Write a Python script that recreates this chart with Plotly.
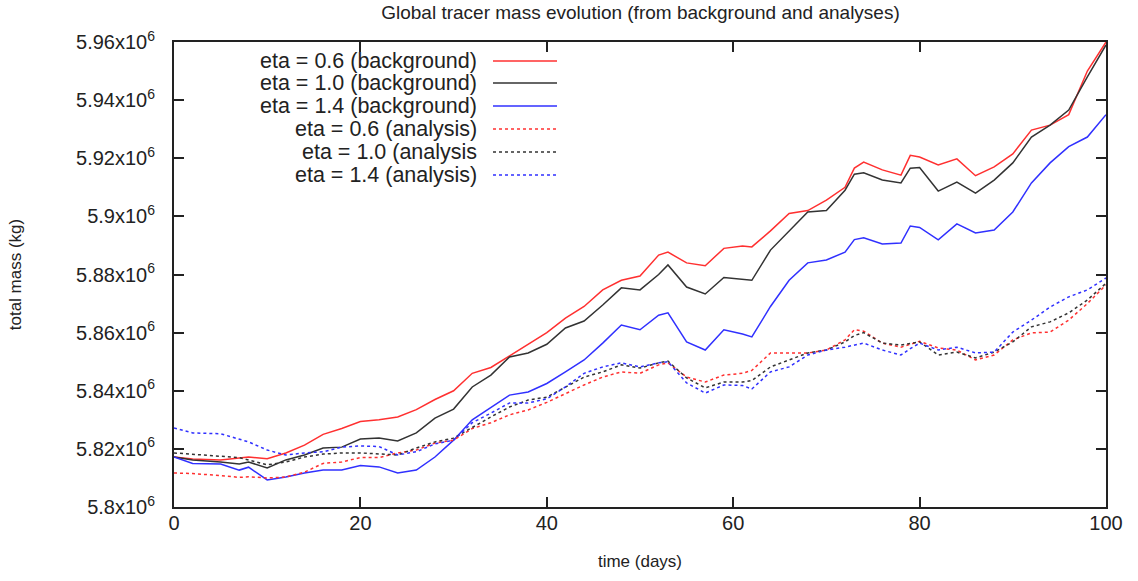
import plotly.graph_objects as go

# time (days)
days = [0, 2, 5, 7, 8, 10, 12, 14, 16, 18, 20, 22, 24, 26, 28, 30, 32, 34, 36, 38,
        40, 42, 44, 46, 48, 50, 52, 53, 55, 57, 59, 61, 62, 64, 66, 68, 70, 72, 73, 74,
        76, 78, 79, 80, 82, 84, 86, 88, 90, 92, 94, 96, 98, 100]

# total mass, thousands of kg above 5.8e6
eta06_bg = [17.2, 16.5, 16.2, 16.8, 17.2, 16.6, 18.6, 21.3, 25.0, 27.0, 29.4, 30.0, 31.0, 33.5, 37.0, 40.0, 46.0, 48.0, 52.0, 56.0,
            60.0, 65.0, 69.0, 74.7, 78.0, 79.5, 86.7, 87.7, 84.0, 83.0, 89.0, 89.8, 89.5, 95.0, 101.0, 102.0, 105.6, 110.0, 116.6, 118.7,
            116.0, 114.2, 121.0, 120.4, 117.7, 119.8, 114.0, 117.0, 121.5, 129.7, 131.4, 135.0, 150.0, 160.0]
eta10_bg = [17.2, 16.2, 15.5, 14.8, 15.5, 13.4, 16.2, 17.9, 20.3, 20.6, 23.4, 23.7, 22.7, 25.5, 30.6, 33.7, 41.3, 45.4, 51.6, 53.0,
            56.0, 61.6, 64.0, 69.5, 75.4, 74.7, 80.0, 83.3, 75.7, 73.3, 79.0, 78.5, 78.0, 88.4, 95.0, 101.5, 102.0, 109.0, 114.5, 115.0,
            112.5, 111.5, 116.6, 116.8, 108.7, 111.8, 108.0, 112.5, 118.4, 127.3, 131.4, 136.6, 148.0, 159.0]
eta14_bg = [17.2, 15.0, 14.8, 12.7, 13.7, 9.3, 10.3, 11.7, 12.7, 12.7, 14.3, 13.8, 11.7, 12.7, 17.2, 23.0, 30.0, 34.4, 38.5, 39.6,
            42.5, 46.5, 50.6, 56.4, 62.6, 61.0, 66.0, 66.8, 56.8, 54.0, 61.0, 59.5, 58.5, 69.0, 78.0, 84.0, 85.0, 87.7, 92.0, 92.6,
            90.5, 90.8, 96.7, 96.2, 91.9, 97.4, 94.3, 95.3, 101.5, 111.5, 118.4, 124.0, 127.3, 135.0]
eta06_an = [11.7, 11.5, 10.8, 10.2, 10.4, 10.0, 10.3, 12.0, 15.0, 15.5, 17.0, 17.0, 18.6, 19.6, 22.0, 23.0, 27.0, 29.0, 31.7, 33.4,
            36.0, 39.0, 42.0, 44.7, 46.5, 46.0, 48.9, 49.6, 44.7, 43.0, 45.4, 46.0, 47.0, 53.0, 53.0, 53.0, 54.0, 57.5, 61.0, 60.5,
            56.4, 55.0, 56.0, 57.0, 54.7, 54.0, 50.6, 52.3, 57.5, 59.9, 60.2, 64.3, 70.0, 76.4]
eta10_an = [18.6, 18.2, 17.5, 17.0, 16.2, 14.5, 15.5, 17.2, 18.2, 18.6, 18.6, 18.2, 17.9, 20.3, 22.4, 23.7, 27.5, 31.0, 34.4, 36.8,
            37.8, 41.3, 44.7, 46.5, 48.9, 47.8, 49.6, 50.2, 44.4, 41.0, 43.0, 43.0, 43.5, 48.2, 50.6, 53.0, 54.0, 56.8, 59.0, 60.0,
            56.4, 55.7, 56.3, 56.8, 52.3, 53.3, 51.3, 53.3, 56.8, 62.0, 63.7, 66.8, 71.2, 77.0]
eta14_an = [27.2, 25.5, 25.2, 23.5, 22.4, 19.6, 17.9, 18.6, 19.0, 20.6, 21.0, 20.8, 17.9, 19.0, 21.7, 23.0, 29.0, 32.3, 35.8, 35.8,
            37.2, 41.3, 46.0, 48.2, 49.6, 48.2, 49.6, 50.0, 42.7, 39.2, 42.0, 41.8, 40.6, 46.5, 48.2, 52.3, 54.0, 55.0, 55.8, 56.4,
            54.0, 52.3, 54.5, 56.4, 54.0, 55.0, 53.0, 53.3, 60.2, 64.3, 68.8, 72.3, 74.7, 78.8]

labels = ["eta = 0.6 (background)", "eta = 1.0 (background)", "eta = 1.4 (background)",
          "eta = 0.6 (analysis)", "eta = 1.0 (analysis", "eta = 1.4 (analysis)"]

x_ticks = [0, 20, 40, 60, 80, 100]
y_ticks = [5.80e6, 5.82e6, 5.84e6, 5.86e6, 5.88e6, 5.90e6, 5.92e6, 5.94e6, 5.96e6]
y_ticktext = ["5.8x10<sup>6</sup>", "5.82x10<sup>6</sup>", "5.84x10<sup>6</sup>", "5.86x10<sup>6</sup>",
              "5.88x10<sup>6</sup>", "5.9x10<sup>6</sup>", "5.92x10<sup>6</sup>", "5.94x10<sup>6</sup>",
              "5.96x10<sup>6</sup>"]

series = [eta06_bg, eta10_bg, eta14_bg, eta06_an, eta10_an, eta14_an]
colors = ["#ff3030", "#333333", "#3030ff", "#ff3030", "#333333", "#3030ff"]
dashes = ["solid", "solid", "solid", "dot", "dot", "dot"]

FONT = "Liberation Sans, Arial, sans-serif"

fig = go.Figure()
for s, c, d, name in zip(series, colors, dashes, labels):
    fig.add_trace(go.Scatter(
        x=days, y=[5.8e6 + v * 1000 for v in s], mode="lines", name=name,
        line=dict(color=c, width=1.5, dash=d), showlegend=False))

# gnuplot-style key: right-aligned text, sample line to its right
L, R, T, B = 174, 1106, 42, 507
W, H = R - L, B - T
rows_px = [61, 83, 106, 129, 152, 175]
for name, c, d, py in zip(labels, colors, dashes, rows_px):
    yp = (B - py) / H
    fig.add_annotation(x=(478 - L) / W, y=yp, xref="paper", yref="paper", text=name,
                       showarrow=False, xanchor="right", yanchor="middle", borderpad=0,
                       font=dict(family=FONT, size=21.5, color="#222222"))
    fig.add_shape(type="line", xref="paper", yref="paper",
                  x0=(493 - L) / W, x1=(557 - L) / W, y0=yp, y1=yp,
                  line=dict(color=c, width=1.5, dash=d))

fig.update_layout(
    width=1138, height=581,
    margin=dict(l=L, r=1138 - R, t=T, b=581 - B),
    paper_bgcolor="white", plot_bgcolor="white",
    font=dict(family=FONT, size=20, color="#222222"),
    title=dict(text="Global tracer mass evolution (from background and analyses)",
               x=(377 + 904) / 2 / 1138, xanchor="center", y=1 - 12 / 581, yanchor="middle",
               font=dict(family=FONT, size=19, color="#222222")),
)
fig.update_xaxes(range=[0, 100], tickvals=x_ticks, ticks="inside", ticklen=10,
                 showline=True, linecolor="#222222", linewidth=2, mirror="ticks",
                 showgrid=False, zeroline=False, tickcolor="#222222", tickwidth=1.5,
                 ticklabelstandoff=-3,
                 title=dict(text="time (days)", font=dict(family=FONT, size=17), standoff=22))
fig.update_yaxes(range=[5.8e6, 5.96e6], tickvals=y_ticks, ticktext=y_ticktext, ticks="inside",
                 ticklen=10, showline=True, linecolor="#222222", linewidth=2, mirror="ticks",
                 showgrid=False, zeroline=False, tickcolor="#222222", tickwidth=1.5,
                 ticklabelstandoff=13,
                 title=dict(text="total mass (kg)", font=dict(family=FONT, size=17), standoff=50))

fig.write_html("out.html", config={"displayModeBar": False},
               post_script="document.body.style.margin='0px';")
